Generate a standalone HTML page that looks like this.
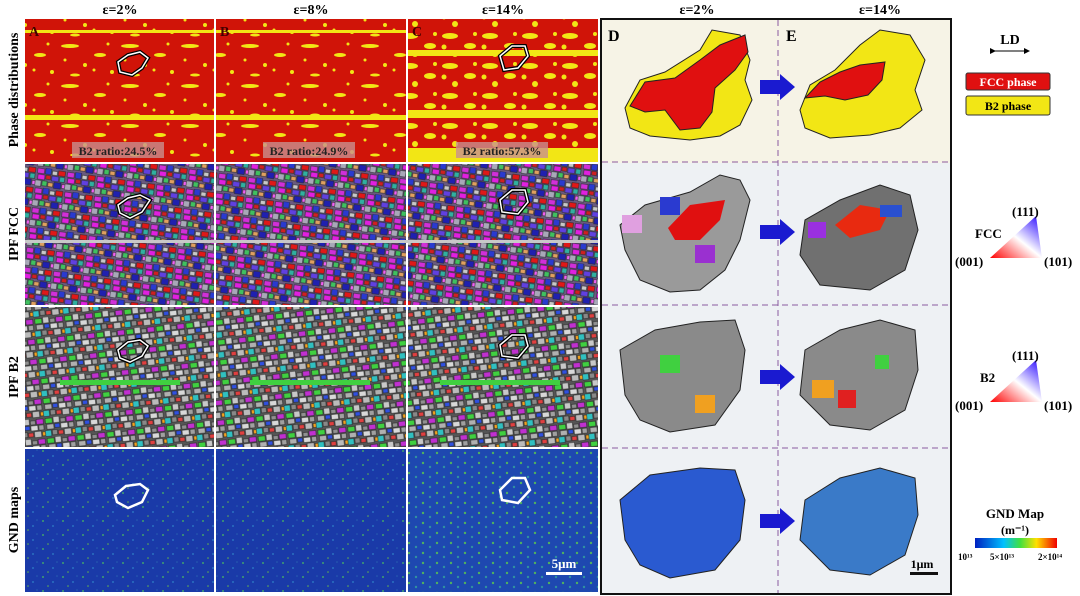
<!DOCTYPE html>
<html><head><meta charset="utf-8"><style>
body{margin:0;background:#fff;width:1080px;height:596px;overflow:hidden;font-family:"Liberation Serif",serif}
svg{display:block}
text{font-family:"Liberation Serif",serif;font-weight:bold}
</style></head><body>
<svg width="1080" height="596" viewBox="0 0 1080 596">
<defs>
<pattern id="phase" width="60" height="40" patternUnits="userSpaceOnUse">
<rect width="60" height="40" fill="#d01408"/>
<ellipse cx="10" cy="6" rx="9" ry="2" fill="#f2e615"/><ellipse cx="40" cy="15" rx="6" ry="2" fill="#f2e615"/>
<circle cx="25" cy="25" r="2" fill="#f2e615"/><circle cx="52" cy="32" r="2" fill="#f2e615"/>
<ellipse cx="15" cy="35" rx="5" ry="1.5" fill="#f2e615"/><circle cx="5" cy="20" r="1.5" fill="#f2e615"/>
<circle cx="48" cy="4" r="1.5" fill="#f2e615"/><circle cx="34" cy="30" r="1.5" fill="#f2e615"/>
</pattern>
<pattern id="phaseC" width="40" height="30" patternUnits="userSpaceOnUse">
<rect width="40" height="30" fill="#d01408"/>
<ellipse cx="10" cy="6" rx="8" ry="3" fill="#f2e615"/><ellipse cx="30" cy="16" rx="6" ry="3" fill="#f2e615"/>
<circle cx="15" cy="24" r="3" fill="#f2e615"/><circle cx="35" cy="4" r="2" fill="#f2e615"/><circle cx="4" cy="17" r="2.5" fill="#f2e615"/>
</pattern>
<pattern id="ipf" width="30" height="20" patternUnits="userSpaceOnUse" patternTransform="rotate(8)">
<rect width="30" height="20" fill="#6a5a80"/>
<g stroke="#222" stroke-width="0.5">
<rect x="1" y="1" width="7" height="5" fill="#d030d8"/><rect x="9" y="0" width="6" height="6" fill="#2a3ad0"/>
<rect x="16" y="2" width="5" height="4" fill="#c8c8c8"/><rect x="22" y="1" width="7" height="5" fill="#e01818"/>
<rect x="2" y="7" width="7" height="5" fill="#e020e0"/><rect x="10" y="7" width="5" height="4" fill="#d02020"/>
<rect x="16" y="7" width="7" height="5" fill="#6040e0"/><rect x="24" y="7" width="5" height="5" fill="#30b0a0"/>
<rect x="0" y="13" width="6" height="6" fill="#a8a8b8"/><rect x="7" y="13" width="5" height="5" fill="#40c060"/>
<rect x="13" y="14" width="5" height="4" fill="#e0a060"/><rect x="19" y="13" width="7" height="6" fill="#2020b0"/><rect x="27" y="14" width="3" height="4" fill="#f060f0"/>
</g></pattern>
<pattern id="ipfb2" width="30" height="20" patternUnits="userSpaceOnUse" patternTransform="rotate(-6)">
<rect width="30" height="20" fill="#555"/>
<g stroke="#222" stroke-width="0.5">
<rect x="1" y="1" width="7" height="5" fill="#40d040"/><rect x="9" y="0" width="6" height="6" fill="#c8c8c8"/>
<rect x="16" y="2" width="5" height="4" fill="#909090"/><rect x="22" y="1" width="7" height="5" fill="#c030d0"/>
<rect x="2" y="7" width="7" height="5" fill="#b0b0b0"/><rect x="10" y="7" width="5" height="4" fill="#3050e0"/>
<rect x="16" y="7" width="7" height="5" fill="#d8d8d8"/><rect x="24" y="7" width="5" height="5" fill="#a0a0a0"/>
<rect x="0" y="13" width="6" height="6" fill="#30c0c0"/><rect x="7" y="13" width="5" height="5" fill="#888"/>
<rect x="13" y="14" width="5" height="4" fill="#e04040"/><rect x="19" y="13" width="7" height="6" fill="#bbb"/><rect x="27" y="14" width="3" height="4" fill="#f0a020"/>
</g></pattern>
<pattern id="gnd" width="20" height="14" patternUnits="userSpaceOnUse">
<rect width="20" height="14" fill="#1a3aa8"/>
<circle cx="3" cy="3" r="1" fill="#3fa070"/><circle cx="13" cy="8" r="1" fill="#2a70c0"/>
<circle cx="8" cy="12" r="0.8" fill="#60b050"/><circle cx="17" cy="2" r="0.8" fill="#2860b0"/>
</pattern>
<pattern id="gndC" width="14" height="10" patternUnits="userSpaceOnUse">
<rect width="14" height="10" fill="#1e48b0"/>
<circle cx="3" cy="3" r="1.2" fill="#50b060"/><circle cx="10" cy="7" r="1.2" fill="#3090a0"/>
</pattern>
<linearGradient id="tri" x1="0" y1="1" x2="1" y2="0"><stop offset="0" stop-color="#f00"/><stop offset="0.5" stop-color="#fff"/><stop offset="1" stop-color="#20f"/></linearGradient>
<linearGradient id="bar" x1="0" x2="1"><stop offset="0" stop-color="#0020c0"/><stop offset="0.35" stop-color="#00c0ff"/><stop offset="0.55" stop-color="#40e040"/><stop offset="0.75" stop-color="#ffe000"/><stop offset="1" stop-color="#f00000"/></linearGradient>
<marker id="ah" markerWidth="6" markerHeight="6" refX="3" refY="3" orient="auto"><path d="M0,0 L6,3 L0,6z" fill="#000"/></marker>
</defs>

<text x="120" y="14" font-size="14" text-anchor="middle">ε=2%</text>
<text x="311" y="14" font-size="14" text-anchor="middle">ε=8%</text>
<text x="503" y="14" font-size="14" text-anchor="middle">ε=14%</text>
<text x="697" y="14" font-size="14" text-anchor="middle">ε=2%</text>
<text x="880" y="14" font-size="14" text-anchor="middle">ε=14%</text>

<text transform="translate(18,90) rotate(-90)" font-size="14" text-anchor="middle">Phase distributions</text>
<text transform="translate(18,234) rotate(-90)" font-size="14" text-anchor="middle">IPF FCC</text>
<text transform="translate(18,377) rotate(-90)" font-size="14" text-anchor="middle">IPF B2</text>
<text transform="translate(18,520) rotate(-90)" font-size="14" text-anchor="middle">GND maps</text>

<g>
<rect x="25" y="19" width="189" height="143" fill="url(#phase)"/>
<rect x="216" y="19" width="190" height="143" fill="url(#phase)"/>
<rect x="408" y="19" width="190" height="143" fill="url(#phaseC)"/>
<rect x="25" y="164" width="189" height="141" fill="url(#ipf)"/>
<rect x="216" y="164" width="190" height="141" fill="url(#ipf)"/>
<rect x="408" y="164" width="190" height="141" fill="url(#ipf)"/>
<rect x="25" y="307" width="189" height="140" fill="url(#ipfb2)"/>
<rect x="216" y="307" width="190" height="140" fill="url(#ipfb2)"/>
<rect x="408" y="307" width="190" height="140" fill="url(#ipfb2)"/>
<rect x="25" y="449" width="189" height="143" fill="url(#gnd)"/>
<rect x="216" y="449" width="190" height="143" fill="url(#gnd)"/>
<rect x="408" y="449" width="190" height="143" fill="url(#gndC)"/>
<rect x="25" y="115" width="189" height="5" fill="#f2e615"/><rect x="216" y="115" width="190" height="5" fill="#f2e615"/>
<rect x="25" y="30" width="189" height="3" fill="#f2e615"/><rect x="216" y="30" width="190" height="3" fill="#f2e615"/>
<rect x="408" y="50" width="190" height="6" fill="#f2e615"/><rect x="408" y="110" width="190" height="8" fill="#f2e615"/>
<rect x="408" y="148" width="190" height="14" fill="#f2e615"/>
<rect x="25" y="240" width="573" height="3" fill="#c8c8c8"/>
<rect x="60" y="380" width="120" height="5" fill="#40d040"/><rect x="250" y="380" width="120" height="5" fill="#40d040"/><rect x="440" y="380" width="120" height="5" fill="#40d040"/>
<text x="29" y="36" font-size="14" fill="#400">A</text><text x="220" y="36" font-size="14" fill="#400">B</text><text x="412" y="36" font-size="14" fill="#400">C</text>
<rect x="72" y="142" width="92" height="16" fill="#c89090" opacity="0.8"/><text x="118" y="155" font-size="12" text-anchor="middle" fill="#222">B2 ratio:24.5%</text>
<rect x="263" y="142" width="92" height="16" fill="#c89090" opacity="0.8"/><text x="309" y="155" font-size="12" text-anchor="middle" fill="#222">B2 ratio:24.9%</text>
<rect x="456" y="142" width="92" height="16" fill="#c89090" opacity="0.8"/><text x="502" y="155" font-size="12" text-anchor="middle" fill="#222">B2 ratio:57.3%</text>
<g fill="none" stroke="#000" stroke-width="4">
<path d="M118,62 L128,55 L140,52 L148,58 L142,68 L132,75 L120,72z"/><path d="M500,56 L512,46 L525,46 L528,56 L518,68 L504,70z"/>
<path d="M118,205 L128,198 L140,195 L150,200 L142,212 L130,218 L120,213z"/><path d="M500,200 L512,190 L525,190 L528,202 L518,214 L502,212z"/>
<path d="M118,350 L128,342 L140,340 L148,346 L142,356 L130,362 L120,358z"/><path d="M500,345 L512,335 L525,335 L528,346 L518,358 L502,356z"/>
</g>
<g fill="none" stroke="#fff" stroke-width="1.5">
<path d="M118,62 L128,55 L140,52 L148,58 L142,68 L132,75 L120,72z"/><path d="M500,56 L512,46 L525,46 L528,56 L518,68 L504,70z"/>
<path d="M118,205 L128,198 L140,195 L150,200 L142,212 L130,218 L120,213z"/><path d="M500,200 L512,190 L525,190 L528,202 L518,214 L502,212z"/>
<path d="M118,350 L128,342 L140,340 L148,346 L142,356 L130,362 L120,358z"/><path d="M500,345 L512,335 L525,335 L528,346 L518,358 L502,356z"/>
<path d="M115,495 L126,486 L140,484 L148,490 L142,502 L128,508 L117,502z" stroke-width="2.5"/><path d="M500,490 L512,478 L525,478 L530,490 L518,503 L502,500z" stroke-width="2.5"/>
</g>
<rect x="546" y="572" width="36" height="3" fill="#fff"/><text x="564" y="568" font-size="13" fill="#fff" text-anchor="middle">5μm</text>
</g>

<g>
<rect x="601" y="19" width="350" height="575" fill="#f6f3e6" stroke="#111" stroke-width="2"/>
<rect x="602" y="163" width="348" height="430" fill="#eef1f4"/>
<line x1="778" y1="20" x2="778" y2="593" stroke="#8a5aa0" stroke-dasharray="6,4"/>
<line x1="602" y1="162" x2="950" y2="162" stroke="#8a5aa0" stroke-dasharray="6,4"/>
<line x1="602" y1="305" x2="950" y2="305" stroke="#8a5aa0" stroke-dasharray="6,4"/>
<line x1="602" y1="448" x2="950" y2="448" stroke="#8a5aa0" stroke-dasharray="6,4"/>
<text x="608" y="41" font-size="16">D</text><text x="786" y="41" font-size="16">E</text>
<path d="M625,108 L640,80 L665,72 L700,50 L712,30 L740,35 L750,60 L745,80 L752,100 L740,125 L720,136 L690,140 L650,136 L630,128z" fill="#f2e615" stroke="#222"/>
<path d="M630,106 L645,82 L675,78 L700,60 L720,45 L745,35 L748,52 L735,70 L715,88 L712,112 L700,128 L680,130 L665,110 L645,112z" fill="#e01010" stroke="#222"/>
<path d="M800,110 L810,85 L835,70 L860,45 L880,30 L910,35 L925,60 L915,90 L922,110 L900,128 L870,135 L830,138 L805,128z" fill="#f2e615" stroke="#222"/>
<path d="M805,98 L820,82 L840,72 L860,65 L885,62 L882,80 L868,95 L845,100 L825,96z" fill="#e01010" stroke="#222"/>
<path d="M760,80 L780,80 L780,74 L795,87 L780,100 L780,94 L760,94z" fill="#1a1ad0"/>
<path d="M625,250 L620,225 L645,205 L690,192 L720,175 L740,180 L750,200 L740,240 L725,270 L700,290 L670,292 L640,280z" fill="#9a9a9a" stroke="#222"/>
<path d="M668,228 L690,205 L725,200 L720,220 L700,240 L675,240z" fill="#e01010"/>
<rect x="622" y="215" width="20" height="18" fill="#e0a0e0"/><rect x="660" y="197" width="20" height="18" fill="#2a3ad0"/><rect x="695" y="245" width="20" height="18" fill="#9a30d0"/>
<path d="M800,255 L805,220 L840,200 L880,185 L910,195 L918,230 L905,270 L870,290 L820,285z" fill="#707070" stroke="#222"/>
<path d="M835,225 L860,205 L890,210 L880,230 L850,238z" fill="#e82a10"/>
<rect x="808" y="222" width="18" height="16" fill="#9a30e0"/><rect x="880" y="205" width="22" height="12" fill="#2a50d0"/>
<path d="M760,225 L780,225 L780,219 L795,232 L780,245 L780,239 L760,239z" fill="#1a1ad0"/>
<path d="M625,395 L620,350 L655,330 L700,322 L735,320 L745,350 L740,390 L715,425 L670,432 L640,420z" fill="#8a8a8a" stroke="#222"/>
<rect x="660" y="355" width="20" height="18" fill="#40d040"/><rect x="695" y="395" width="20" height="18" fill="#f0a020"/>
<path d="M800,395 L805,350 L840,330 L880,320 L915,330 L918,370 L905,410 L870,430 L830,425z" fill="#8a8a8a" stroke="#222"/>
<rect x="812" y="380" width="22" height="18" fill="#f0a020"/><rect x="838" y="390" width="18" height="18" fill="#e02020"/><rect x="875" y="355" width="14" height="14" fill="#40d040"/>
<path d="M760,370 L780,370 L780,364 L795,377 L780,390 L780,384 L760,384z" fill="#1a1ad0"/>
<path d="M625,540 L620,500 L650,475 L700,468 L735,470 L745,500 L740,540 L715,570 L670,578 L640,565z" fill="#2a5ad0" stroke="#222"/>
<path d="M800,540 L805,500 L840,478 L880,468 L915,478 L918,515 L905,555 L870,575 L830,570z" fill="#3a7ac8" stroke="#222"/>
<path d="M760,514 L780,514 L780,508 L795,521 L780,534 L780,528 L760,528z" fill="#1a1ad0"/>
<rect x="910" y="572" width="28" height="3" fill="#111"/><text x="922" y="568" font-size="12" text-anchor="middle">1μm</text>
</g>

<g>
<text x="1010" y="44" font-size="14" text-anchor="middle">LD</text>
<line x1="993" y1="51" x2="1027" y2="51" stroke="#000" marker-end="url(#ah)" marker-start="url(#ah)"/>
<rect x="966" y="73" width="84" height="17" rx="2" fill="#e01010" stroke="#333"/>
<text x="1008" y="86" font-size="12" fill="#fff" text-anchor="middle">FCC phase</text>
<rect x="966" y="96" width="84" height="19" rx="2" fill="#f2e615" stroke="#333"/>
<text x="1008" y="110" font-size="12" text-anchor="middle">B2 phase</text>
<path d="M990,258 L1042,258 L1036,216z" fill="url(#tri)"/>
<text x="1012" y="216" font-size="13">(111)</text><text x="975" y="238" font-size="13">FCC</text>
<text x="955" y="266" font-size="13">(001)</text><text x="1044" y="266" font-size="13">(101)</text>
<path d="M990,402 L1042,402 L1036,360z" fill="url(#tri)"/>
<text x="1012" y="360" font-size="13">(111)</text><text x="980" y="382" font-size="13">B2</text>
<text x="955" y="410" font-size="13">(001)</text><text x="1044" y="410" font-size="13">(101)</text>
<text x="1015" y="518" font-size="13" text-anchor="middle">GND Map</text>
<text x="1015" y="534" font-size="12" text-anchor="middle">(m⁻¹)</text>
<rect x="975" y="538" width="82" height="10" fill="url(#bar)"/>
<text x="958" y="560" font-size="9">10¹³</text><text x="990" y="560" font-size="9">5×10¹³</text><text x="1038" y="560" font-size="9">2×10¹⁴</text>
</g>
</svg>
</body></html>
